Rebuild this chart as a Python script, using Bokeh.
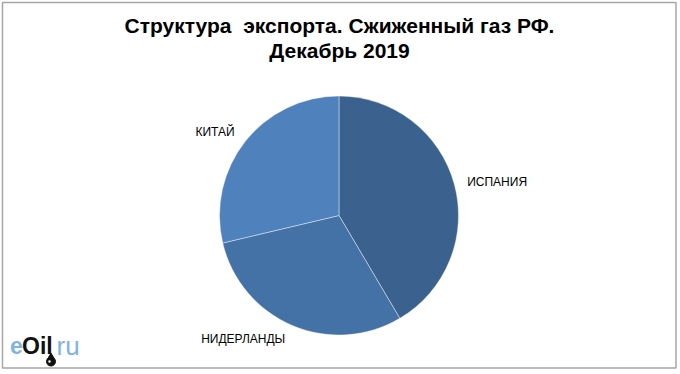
import math
from bokeh.plotting import figure
from bokeh.models import Range1d, ColumnDataSource
from bokeh.core.properties import value
from bokeh.embed import file_html
from bokeh.resources import INLINE

# Data
countries = ["ИСПАНИЯ", "НИДЕРЛАНДЫ", "КИТАЙ"]
shares = [41.5, 29.8, 28.7]
colors = ["#3B618E", "#4472A6", "#4F81BD"]
title_lines = ["Структура\u00a0\u00a0экспорта. Сжиженный газ РФ.", "Декабрь 2019"]

W, H = 678, 371
p = figure(width=W, height=H, output_backend="svg", toolbar_location=None,
           x_range=Range1d(0, W), y_range=Range1d(0, H), min_border=0,
           outline_line_color=None)
p.axis.visible = False
p.grid.visible = False
p.background_fill_color = "white"
p.border_fill_color = "white"

# page coords -> data coords
def px(x):
    return x
def py(y):
    return H - y

# chart border
p.quad(left=px(2), right=px(675.5), top=py(2), bottom=py(367.5),
       fill_color=None, line_color="#A6A6A6", line_width=1.5)

cx, cy, r = px(338.5), py(215), 119.5
total = sum(shares)
starts, ends = [], []
acc = 0.0
for s in shares:
    a0 = math.pi / 2 - 2 * math.pi * acc / total
    acc += s
    a1 = math.pi / 2 - 2 * math.pi * acc / total
    starts.append(a0)
    ends.append(a1)

src = ColumnDataSource(dict(start=starts, end=ends, color=colors, name=countries))
p.wedge(x=cx, y=cy, radius=r, start_angle="start", end_angle="end", direction="clock",
        fill_color="color", line_color="white", line_width=0.6, line_alpha=0.7, source=src)

# Labels (vertical centres)
lab_x = [px(466.7), px(200.7), px(195)]
lab_y = [py(181.2), py(338.8), py(131)]
p.text(x=lab_x, y=lab_y, text=countries, text_font=value("Liberation Sans"),
       text_font_size="12px", text_color="#000000", text_baseline="middle", text_align="left")

# Title
p.text(x=[px(339), px(339)], y=[py(24.5), py(49.8)], text=title_lines,
       text_font=value("Liberation Sans"), text_font_style="bold", text_font_size="21px",
       text_color="#000000", text_align="center", text_baseline="middle")

# Logo eOil.ru
ly = py(345)
p.text(x=[px(9.5)], y=[ly], text=["e"], text_font=value("Liberation Sans"),
       text_font_style="bold", text_font_size="23px", text_color="#7FB3E0", text_baseline="middle")
p.text(x=[px(21.5)], y=[ly], text=["Oil"], text_font=value("Liberation Sans"),
       text_font_style="bold", text_font_size="23px", text_color="#111111", text_baseline="middle")
p.text(x=[px(56)], y=[ly], text=["ru"], text_font=value("Liberation Sans"),
       text_font_size="26px", text_color="#7FB3E0", text_baseline="middle")
p.scatter(x=[px(50.5)], y=[py(361)], size=9, marker="circle", fill_color="#111111", line_color="#111111")
p.scatter(x=[px(50.5)], y=[py(356)], size=6, marker="triangle", fill_color="#111111", line_color="#111111")
p.scatter(x=[px(49)], y=[py(361)], size=2.5, marker="circle", fill_color="white", line_color=None)

open("out.html", "w").write(file_html(p, INLINE))
